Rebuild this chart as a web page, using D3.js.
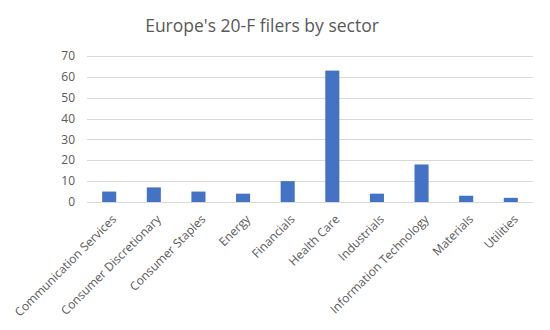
<!DOCTYPE html>
<html>
<head>
<meta charset="utf-8">
<script src="https://cdn.jsdelivr.net/npm/d3@7"></script>
<style>
  html, body { margin: 0; padding: 0; background: #fff; }
  svg { display: block; font-family: "Open Sans", "Liberation Sans", sans-serif; }
</style>
</head>
<body>
<svg id="chart" width="550" height="330"></svg>
<script>
const sectors = ["Communication Services", "Consumer Discretionary", "Consumer Staples", "Energy",
  "Financials", "Health Care", "Industrials", "Information Technology", "Materials", "Utilities"];
const filers = [5, 7, 5, 4, 10, 63, 4, 18, 3, 2];
const yTicks = [0, 10, 20, 30, 40, 50, 60, 70];

const svg = d3.select("#chart");
const margin = { left: 87, right: 17, top: 56, bottom: 128 };
const W = 550, H = 330;

const x = d3.scaleBand().domain(sectors).range([margin.left, W - margin.right]).paddingInner(0.685).paddingOuter(0.34);
const y = d3.scaleLinear().domain([0, 70]).range([H - margin.bottom, margin.top]);

svg.append("text")
  .attr("x", 262).attr("y", 32)
  .attr("text-anchor", "middle")
  .attr("font-size", 17.5)
  .attr("fill", "#595959")
  .text("Europe's 20-F filers by sector");

// gridlines
svg.append("g").selectAll("line").data(yTicks).join("line")
  .attr("x1", margin.left).attr("x2", W - margin.right)
  .attr("y1", d => Math.round(y(d)) + 0.5).attr("y2", d => Math.round(y(d)) + 0.5)
  .attr("stroke", "#d9d9d9").attr("stroke-width", 1);

// y labels
svg.append("g").selectAll("text").data(yTicks).join("text")
  .attr("x", 75).attr("y", d => y(d))
  .attr("dy", "0.35em")
  .attr("text-anchor", "end")
  .attr("font-size", 12)
  .attr("fill", "#595959")
  .text(d => d);

// bars
svg.append("g").selectAll("rect").data(sectors).join("rect")
  .attr("x", d => x(d))
  .attr("width", x.bandwidth())
  .attr("y", (d, i) => y(filers[i]))
  .attr("height", (d, i) => y(0) - y(filers[i]))
  .attr("fill", "#4472c4");

// category labels
svg.append("g").selectAll("text").data(sectors).join("text")
  .attr("transform", d => `translate(${x(d) + x.bandwidth() / 2 + 5},${y(0) + 15}) rotate(-45)`)
  .attr("text-anchor", "end")
  .attr("dy", "0.35em")
  .attr("font-size", 12)
  .attr("fill", "#595959")
  .text(d => d);
</script>
</body>
</html>
